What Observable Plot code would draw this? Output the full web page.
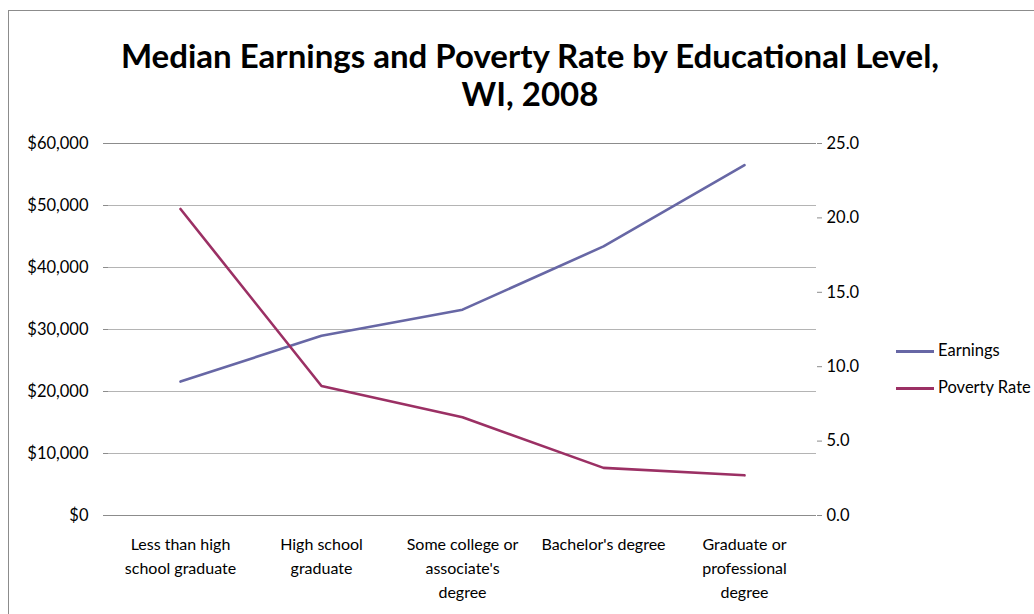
<!DOCTYPE html>
<html>
<head>
<meta charset="utf-8">
<script src="https://cdn.jsdelivr.net/npm/d3@7"></script>
<script src="https://cdn.jsdelivr.net/npm/@observablehq/plot@0.6"></script>
<style>
  html, body { margin: 0; padding: 0; background: #fff; overflow: hidden; }
  body { width: 1034px; height: 614px; position: relative; font-family: Lato, "Open Sans", sans-serif; }
  #frame { position: absolute; left: 8px; top: 10px; width: 1100px; height: 700px; border: 1px solid #8c8c8c; box-sizing: border-box; }
  #title { position: absolute; left: 0; width: 1060px; top: 36px; text-align: center; font-weight: bold; font-size: 33px; line-height: 38px; color: #000; }
  #chart { position: absolute; left: 0; top: 130px; }
  .legend { position: absolute; left: 896px; font-size: 16.5px; color: #000; white-space: nowrap; }
  .legend span.sw { display: inline-block; width: 38px; height: 3px; vertical-align: middle; margin-right: 4px; }
</style>
</head>
<body>
<div id="frame"></div>
<div id="title">Median Earnings and Poverty Rate by Educational Level,<br>WI, 2008</div>
<div id="chart"></div>
<div class="legend" style="top:340px"><span class="sw" style="background:#6767a5"></span>Earnings</div>
<div class="legend" style="top:377px"><span class="sw" style="background:#9b3064"></span>Poverty Rate</div>
<script>
const categories = [
  "Less than high school graduate",
  "High school graduate",
  "Some college or associate's degree",
  "Bachelor's degree",
  "Graduate or professional degree"
];
const categoryLabels = [
  "Less than high\nschool graduate",
  "High school\ngraduate",
  "Some college or\nassociate's\ndegree",
  "Bachelor's degree",
  "Graduate or\nprofessional\ndegree"
];
const earnings = [21600, 29000, 33200, 43400, 56500];
const povertyRate = [20.6, 8.7, 6.6, 3.2, 2.7];
const earningsTicks = [0, 10000, 20000, 30000, 40000, 50000, 60000];
const povertyTicks = [0, 5, 10, 15, 20, 25];

const earnMax = 60000, povMax = 25;
const k = earnMax / povMax;

const earnData = categories.map((c, i) => ({cat: c, v: earnings[i]}));
const povData = categories.map((c, i) => ({cat: c, v: povertyRate[i] * k}));
const labelOf = new Map(categories.map((c, i) => [c, categoryLabels[i]]));

const chart = Plot.plot({
  width: 1034,
  height: 484,
  marginTop: 13,
  marginBottom: 99,
  marginLeft: 108,
  marginRight: 218,
  style: {fontFamily: "Lato, 'Open Sans', sans-serif", fontSize: "16px", color: "#000", background: "transparent"},
  x: {type: "point", domain: categories, padding: 0.5},
  y: {domain: [0, earnMax]},
  marks: [
    Plot.gridY(earningsTicks, {stroke: "#b4b4b4", strokeOpacity: 1, strokeWidth: 1.2}),
    Plot.ruleY([earnMax], {stroke: "#8c8c8c", strokeWidth: 1.2}),
    Plot.ruleX([0], {frameAnchor: "left", stroke: "#8c8c8c", strokeWidth: 1.2}),
    Plot.ruleX([0], {frameAnchor: "right", stroke: "#8c8c8c", strokeWidth: 1.2}),
    Plot.axisY(earningsTicks, {
      anchor: "left", label: null, tickSize: 5, tickPadding: 15, stroke: "#8c8c8c",
      tickFormat: d => "$" + d3.format(",")(d), fontSize: 16.5
    }),
    Plot.axisY(povertyTicks.map(d => d * k), {
      anchor: "right", label: null, tickSize: 5, tickPadding: 5, stroke: "#8c8c8c",
      tickFormat: d => (d / k).toFixed(1), fontSize: 16.5
    }),
    Plot.axisX({
      anchor: "bottom", label: null, tickSize: 0, tickPadding: 17,
      tickFormat: d => labelOf.get(d), lineHeight: 1.5, lineAnchor: "top", fontSize: 16
    }),
    Plot.ruleY([0], {stroke: "#8c8c8c", strokeWidth: 1.2}),
    Plot.line(earnData, {x: "cat", y: "v", stroke: "#6767a5", strokeWidth: 2.6}),
    Plot.line(povData, {x: "cat", y: "v", stroke: "#9b3064", strokeWidth: 2.6})
  ]
});
document.getElementById("chart").appendChild(chart);
</script>
</body>
</html>
